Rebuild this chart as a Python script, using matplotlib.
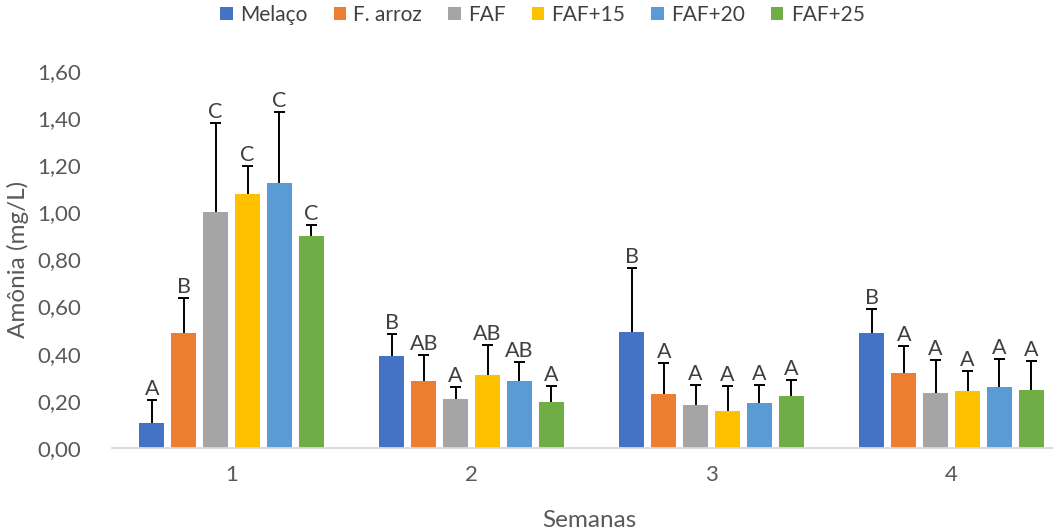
import matplotlib.pyplot as plt
import numpy as np

semanas = ['1', '2', '3', '4']
tratamentos = ['Melaço', 'F. arroz', 'FAF', 'FAF+15', 'FAF+20', 'FAF+25']
cores = ['#4472C4', '#ED7D31', '#A5A5A5', '#FFC000', '#5B9BD5', '#70AD47']

# média de amônia por tratamento, uma lista por semana
media = [
    [0.105, 0.487, 1.000, 1.078, 1.123, 0.900],
    [0.389, 0.283, 0.208, 0.311, 0.283, 0.195],
    [0.492, 0.229, 0.184, 0.158, 0.191, 0.222],
    [0.486, 0.317, 0.232, 0.242, 0.257, 0.244],
]
# desvio padrão (só a parte de cima é desenhada)
desvio = [
    [0.099, 0.148, 0.378, 0.120, 0.302, 0.046],
    [0.095, 0.113, 0.051, 0.125, 0.082, 0.067],
    [0.271, 0.132, 0.081, 0.103, 0.074, 0.065],
    [0.102, 0.117, 0.140, 0.086, 0.121, 0.125],
]
letras = [
    ['A', 'B', 'C', 'C', 'C', 'C'],
    ['B', 'AB', 'A', 'AB', 'AB', 'A'],
    ['B', 'A', 'A', 'A', 'A', 'A'],
    ['B', 'A', 'A', 'A', 'A', 'A'],
]

plt.rcParams['font.family'] = ['Lato', 'DejaVu Sans']

fig = plt.figure(figsize=(10.63, 5.30), dpi=100)
ax = fig.add_axes([0.105, 0.155, 0.885, 0.711])

x = np.arange(len(semanas))
passo = 0.133
largura = 0.105
cap = 0.022
media = np.array(media)
desvio = np.array(desvio)

for i, trat in enumerate(tratamentos):
    pos = x + (i - 2.5) * passo
    topo = media[:, i] + desvio[:, i]
    ax.bar(pos, media[:, i], width=largura, color=cores[i], label=trat, zorder=2)
    # barra de erro só para cima, com traço no topo
    ax.vlines(pos, media[:, i], topo, color='black', linewidth=1.4, zorder=3)
    ax.hlines(topo, pos - cap, pos + cap, color='black', linewidth=1.4, zorder=3)
    for j in range(len(x)):
        ax.text(pos[j], topo[j] + 0.004, letras[j][i],
                ha='center', va='bottom', fontsize=15.5, color='#404040')

ax.set_ylim(0, 1.6)
ax.set_xlim(-0.5, 3.42)
ax.set_yticks(np.arange(0, 1.61, 0.2))
ax.set_yticklabels([f'{v:.2f}'.replace('.', ',') for v in np.arange(0, 1.61, 0.2)])
ax.set_xticks(x)
ax.set_xticklabels(semanas)
ax.tick_params(axis='both', length=0, labelsize=16, labelcolor='#595959')
ax.tick_params(axis='x', pad=12)
ax.tick_params(axis='y', pad=22)

for lado in ['top', 'right', 'left']:
    ax.spines[lado].set_visible(False)
ax.spines['bottom'].set_color('#D9D9D9')
ax.spines['bottom'].set_linewidth(1.3)

ax.set_xlabel('Semanas', fontsize=17.5, color='#595959')
ax.set_ylabel('Amônia (mg/L)', fontsize=17.5, color='#595959')
ax.xaxis.set_label_coords(0.508, -0.165)
ax.yaxis.set_label_coords(-0.088, 0.5)

ax.legend(loc='upper center', bbox_to_anchor=(0.458, 1.225), ncol=6, frameon=False,
          fontsize=15, handlelength=0.6, handleheight=0.6, handletextpad=0.35,
          columnspacing=1.25, labelcolor='#404040')

fig.savefig('out.png', dpi=100)
